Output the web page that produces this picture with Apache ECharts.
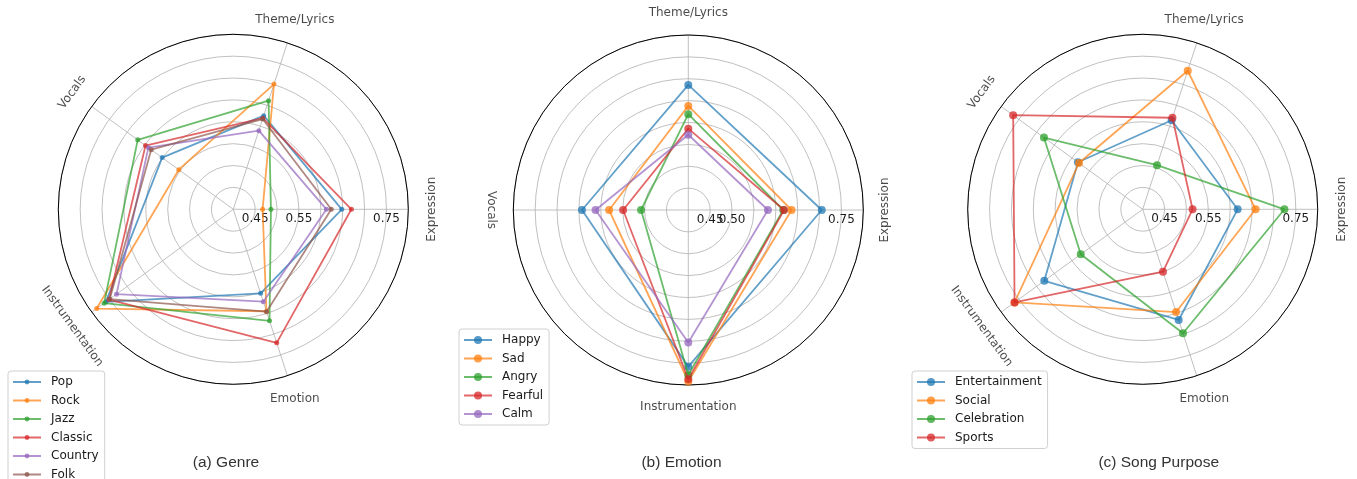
<!DOCTYPE html>
<html>
<head>
<meta charset="utf-8">
<script src="https://cdn.jsdelivr.net/npm/echarts@6/dist/echarts.min.js"></script>
<style>
  html, body { margin: 0; padding: 0; background: #fff; }
  #chart { width: 1357px; height: 479px; }
</style>
</head>
<body>
<div id="chart"></div>
<script>
// axes (label, angle in degrees counter-clockwise from the right)
const axesFive = ['Expression', 'Theme/Lyrics', 'Vocals', 'Instrumentation', 'Emotion'];
const anglesFive = [0, 72, 144, 216, 288];
const rotFive = [90, 0, 54, -54, 0];
const axesFour = ['Expression', 'Theme/Lyrics', 'Vocals', 'Instrumentation'];
const anglesFour = [0, 90, 180, 270];
const rotFour = [90, 0, -90, 0];

const tickLabelsA = ['0.45', '0.55', '0.75'];
const tickLabelsB = ['0.45', '0.50', '0.75'];
const tickLabelsC = ['0.45', '0.55', '0.75'];

// (a) Genre  -- values in axesFive order
const genreNames = ['Pop', 'Rock', 'Jazz', 'Classic', 'Country', 'Folk'];
const pop     = [0.648, 0.625, 0.601, 0.760, 0.602];
const rock    = [0.467, 0.701, 0.554, 0.786, 0.645];
const jazz    = [0.486, 0.661, 0.670, 0.765, 0.668];
const classic = [0.670, 0.619, 0.648, 0.751, 0.721];
const country = [0.613, 0.589, 0.640, 0.730, 0.622];
const folk    = [0.624, 0.617, 0.632, 0.749, 0.646];

// (b) Emotion -- values in axesFour order
const emotionNames = ['Happy', 'Sad', 'Angry', 'Fearful', 'Calm'];
const happy   = [0.705, 0.686, 0.643, 0.758];
const sad     = [0.636, 0.638, 0.581, 0.792];
const angry   = [0.617, 0.619, 0.508, 0.777];
const fearful = [0.619, 0.586, 0.549, 0.787];
const calm    = [0.582, 0.572, 0.612, 0.703];

// (c) Song Purpose -- values in axesFive order
const purposeNames = ['Entertainment', 'Social', 'Celebration', 'Sports'];
const entertainment = [0.617, 0.614, 0.583, 0.678, 0.666];
const social        = [0.658, 0.733, 0.580, 0.762, 0.647];
const celebration   = [0.724, 0.506, 0.679, 0.575, 0.698];
const sports        = [0.514, 0.620, 0.766, 0.762, 0.550];

const colors = ['#1f77b4', '#ff7f0e', '#2ca02c', '#d62728', '#9467bd', '#8c564b'];
const gridColor = '#b0b0b0';
const textColor = '#1a1a1a';
const font = 'DejaVu Sans';

const panels = [
  { center: [233.3, 209.3], angles: anglesFive, axes: axesFive, rot: rotFive, ticks: tickLabelsA,
    names: genreNames, values: [pop, rock, jazz, classic, country, folk], symbolSize: 5, labelR: 0.855 },
  { center: [688.3, 210], angles: anglesFour, axes: axesFour, rot: rotFour, ticks: tickLabelsB,
    names: emotionNames, values: [happy, sad, angry, fearful, calm], symbolSize: 8, labelR: 0.850 },
  { center: [1142.7, 209.3], angles: anglesFive, axes: axesFive, rot: rotFive, ticks: tickLabelsC,
    names: purposeNames, values: [entertainment, social, celebration, sports], symbolSize: 8, labelR: 0.855 }
];

const polar = [], angleAxis = [], radiusAxis = [], series = [];

panels.forEach((p, k) => {
  polar.push({ center: p.center, radius: 175 });
  angleAxis.push({
    polarIndex: k, type: 'value', min: 0, max: 360, interval: 360 / p.angles.length,
    startAngle: 0, clockwise: false, z: 3,
    axisLine: { lineStyle: { color: '#000', width: 1 } },
    axisTick: { show: false }, axisLabel: { show: false },
    splitLine: { lineStyle: { color: gridColor, width: 0.8 } }
  });
  radiusAxis.push({
    polarIndex: k, type: 'value', min: 0.4, max: 0.8, interval: 0.05,
    axisLine: { show: false }, axisTick: { show: false },
    axisLabel: {
      inside: true, margin: -16,
      color: textColor, fontSize: 12, fontFamily: font,
      formatter: v => (p.ticks.indexOf(v.toFixed(2)) >= 0 ? v.toFixed(2) : '')
    },
    splitLine: { lineStyle: { color: gridColor, width: 0.8 } }
  });
  p.values.forEach((vals, i) => {
    const data = vals.map((v, j) => [v, p.angles[j]]);
    data.push({ value: [vals[0], p.angles[0]], symbol: 'none' });
    series.push({
      type: 'line', name: p.names[i], coordinateSystem: 'polar', polarIndex: k,
      data: data, symbol: 'circle', symbolSize: p.symbolSize, clip: false,
      lineStyle: { width: 1.8, color: colors[i], opacity: 0.7 },
      itemStyle: { color: colors[i], opacity: 0.75 },
      emphasis: { disabled: true }, z: 5 + i
    });
  });
  // axis names, placed just outside the outer circle through the radius scale
  series.push({
    type: 'scatter', coordinateSystem: 'polar', polarIndex: k, silent: true, clip: false,
    symbolSize: 1, itemStyle: { color: 'rgba(0,0,0,0)' },
    data: p.axes.map((n, j) => ({ name: n, value: [p.labelR, p.angles[j]], label: { rotate: p.rot[j] } })),
    label: { show: true, position: 'inside', formatter: '{b}', color: textColor, fontSize: 12, fontFamily: font }
  });
});

function legendFor(names, left, top, itemHeight) {
  return {
    orient: 'vertical', left: left, top: top, height: 300, data: names,
    itemWidth: 28, itemHeight: itemHeight, itemGap: 4.5,
    padding: [4, 6, 4, 4], borderColor: '#d0d0d0', borderWidth: 1, borderRadius: 3,
    backgroundColor: 'rgba(255,255,255,0.8)', selectedMode: false,
    textStyle: { color: textColor, fontSize: 12, fontFamily: font, lineHeight: 14, padding: [0, 0, 0, 5] }
  };
}

const chart = echarts.init(document.getElementById('chart'));
chart.setOption({
  animation: false,
  backgroundColor: '#fff',
  polar: polar,
  angleAxis: angleAxis,
  radiusAxis: radiusAxis,
  legend: [
    legendFor(genreNames, 8, 371, 6),
    legendFor(emotionNames, 459, 329, 10),
    legendFor(purposeNames, 912, 371, 10)
  ],
  graphic: [
    { type: 'text', x: 226, y: 463, style: { text: '(a) Genre', align: 'center', verticalAlign: 'middle', fontSize: 15.5, fontFamily: 'Liberation Sans', fill: '#333' } },
    { type: 'text', x: 681.5, y: 463, style: { text: '(b) Emotion', align: 'center', verticalAlign: 'middle', fontSize: 15.5, fontFamily: 'Liberation Sans', fill: '#333' } },
    { type: 'text', x: 1158.7, y: 463, style: { text: '(c) Song Purpose', align: 'center', verticalAlign: 'middle', fontSize: 15.5, fontFamily: 'Liberation Sans', fill: '#333' } }
  ],
  series: series
});
</script>
</body>
</html>
